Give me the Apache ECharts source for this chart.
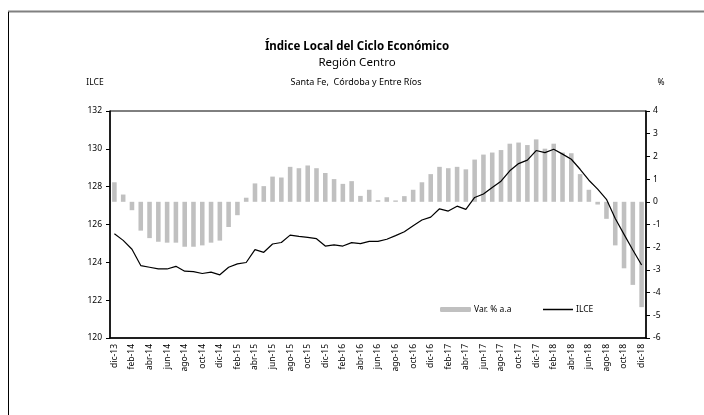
<!DOCTYPE html>
<html>
<head>
<meta charset="utf-8">
<script src="https://cdn.jsdelivr.net/npm/echarts@6/dist/echarts.min.js"></script>
<style>
  html, body { margin: 0; padding: 0; background: #fff; }
  #chartmain { width: 704px; height: 415px; }
</style>
</head>
<body>
<div id="chartmain"></div>
<script>
// meses (dic-13 ... dic-18)
var meses = ['ene','feb','mar','abr','may','jun','jul','ago','sep','oct','nov','dic'];
var categorias = ['dic-13'];
for (var a = 14; a <= 18; a++) {
    for (var m = 0; m < 12; m++) {
        categorias.push(meses[m] + '-' + a);
    }
}

// Var. % a.a (eje derecho)
var variacion = [
    0.86, 0.32, -0.37, -1.27, -1.60, -1.76, -1.80, -1.80, -1.98, -1.98, -1.92, -1.80, -1.71,
    -1.11, -0.59, 0.18, 0.81, 0.69, 1.11, 1.07, 1.54, 1.48, 1.60, 1.48, 1.27,
    1.00, 0.79, 0.91, 0.26, 0.53, 0.07, 0.20, 0.06, 0.25, 0.53, 0.86, 1.22,
    1.54, 1.48, 1.54, 1.43, 1.86, 2.08, 2.17, 2.28, 2.56, 2.61, 2.50, 2.75,
    2.34, 2.56, 2.17, 2.14, 1.22, 0.53, -0.12, -0.75, -1.92, -2.93, -3.66, -4.64
];

// ILCE (eje izquierdo)
var ilce = [
    125.51, 125.16, 124.69, 123.83, 123.74, 123.65, 123.65, 123.79, 123.53, 123.51, 123.41, 123.48, 123.34,
    123.74, 123.92, 123.99, 124.67, 124.53, 124.97, 125.05, 125.44, 125.37, 125.32, 125.25, 124.86,
    124.92, 124.86, 125.04, 124.99, 125.11, 125.11, 125.22, 125.41, 125.62, 125.94, 126.24, 126.39,
    126.83, 126.71, 126.97, 126.80, 127.43, 127.61, 127.96, 128.29, 128.84, 129.22, 129.40, 129.91,
    129.80, 129.98, 129.72, 129.45, 128.92, 128.34, 127.87, 127.33, 126.32, 125.48, 124.65, 123.86
];

var fuente = 'Noto Sans';

var option = {
    animation: false,
    textStyle: { fontFamily: fuente, color: '#000' },
    title: [
        {
            text: 'Índice Local del Ciclo Económico',
            left: 352, top: 36, textAlign: 'center',
            textStyle: { fontSize: 11.5, fontWeight: 'bold', color: '#000', fontFamily: fuente }
        },
        {
            text: 'Región Centro',
            left: 352, top: 52, textAlign: 'center',
            textStyle: { fontSize: 11.5, fontWeight: 'normal', color: '#000', fontFamily: fuente }
        },
        {
            text: 'Santa Fe,  Córdoba y Entre Ríos',
            left: 351, top: 73, textAlign: 'center',
            textStyle: { fontSize: 9, fontWeight: 'normal', color: '#000', fontFamily: fuente }
        },
        {
            text: 'ILCE',
            left: 90, top: 73, textAlign: 'center',
            textStyle: { fontSize: 8.5, fontWeight: 'normal', color: '#000', fontFamily: fuente }
        },
        {
            text: '%',
            left: 656, top: 73, textAlign: 'center',
            textStyle: { fontSize: 8.5, fontWeight: 'normal', color: '#000', fontFamily: fuente }
        }
    ],
    legend: [
        {
            data: ['Var. % a.a'],
            left: 435, top: 300,
            itemWidth: 31, itemHeight: 5,
            textStyle: { fontSize: 8.5, color: '#000', fontFamily: fuente, padding: [0, 0, 0, -2] }
        },
        {
            data: [{ name: 'ILCE', icon: 'rect', itemStyle: { color: '#000' } }],
            left: 538, top: 300,
            itemWidth: 30, itemHeight: 1.5,
            textStyle: { fontSize: 8.5, color: '#000', fontFamily: fuente, padding: [0, 0, 0, -2] }
        }
    ],
    grid: {
        left: 110, top: 111, width: 536, height: 227,
        show: true, borderColor: '#000', borderWidth: 1, containLabel: false
    },
    xAxis: {
        type: 'category',
        data: categorias,
        boundaryGap: true,
        axisLine: { onZero: false, lineStyle: { color: '#000', width: 1.5 } },
        axisTick: { interval: 1, length: 4, lineStyle: { color: '#000' } },
        axisLabel: { interval: 1, rotate: 90, fontSize: 8.5, color: '#000', margin: 6, fontFamily: fuente }
    },
    yAxis: [
        {
            type: 'value',
            min: 120, max: 132, interval: 2,
            splitLine: { show: false },
            axisLine: { show: true, lineStyle: { color: '#000', width: 1.5 } },
            axisTick: { show: true, length: 4, lineStyle: { color: '#000' } },
            axisLabel: { fontSize: 8.5, color: '#000', margin: 8, fontFamily: fuente }
        },
        {
            type: 'value',
            min: -6, max: 4, interval: 1,
            splitLine: { show: false },
            axisLine: { show: true, lineStyle: { color: '#000', width: 1.5 } },
            axisTick: { show: true, length: 4, lineStyle: { color: '#000' } },
            axisLabel: { fontSize: 8.5, color: '#000', margin: 7, fontFamily: fuente }
        }
    ],
    series: [
        {
            name: 'Var. % a.a',
            type: 'bar',
            yAxisIndex: 1,
            barWidth: '52%',
            itemStyle: { color: '#c0c0c0' },
            data: variacion
        },
        {
            name: 'ILCE',
            type: 'line',
            yAxisIndex: 0,
            symbol: 'none',
            lineStyle: { color: '#000', width: 1.2 },
            itemStyle: { color: '#000' },
            data: ilce,
            z: 3
        }
    ],
    graphic: [
        {
            type: 'line',
            shape: { x1: 8, y1: 11.5, x2: 704, y2: 11.5 },
            style: { stroke: '#808080', lineWidth: 2 }
        },
        {
            type: 'line',
            shape: { x1: 8.5, y1: 12, x2: 8.5, y2: 415 },
            style: { stroke: '#000', lineWidth: 1 }
        }
    ]
};

var myChart = echarts.init(document.getElementById('chartmain'));
myChart.setOption(option);
</script>
</body>
</html>
